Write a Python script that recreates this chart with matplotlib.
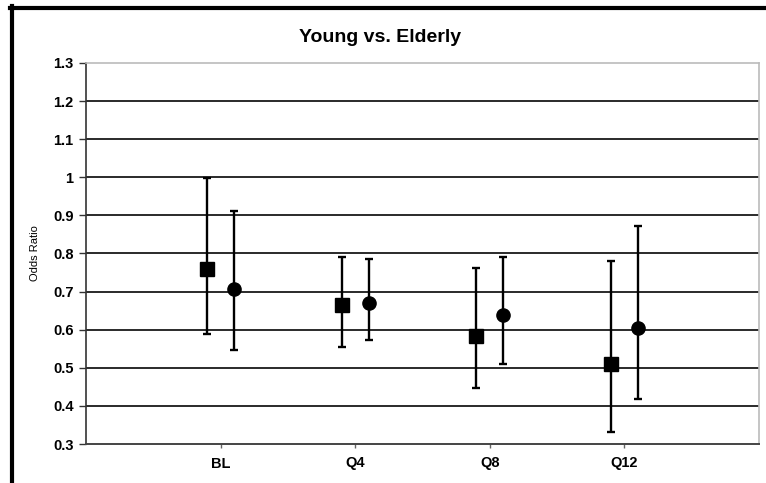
import numpy as np
import matplotlib
matplotlib.use('Agg')
import matplotlib.pyplot as plt
from matplotlib.lines import Line2D

plt.rcParams['font.family'] = ['Liberation Sans', 'DejaVu Sans']

categories = ['BL', 'Q4', 'Q8', 'Q12']

# first series (squares)
sq_mean = [0.76, 0.665, 0.583, 0.51]
sq_low = [0.59, 0.555, 0.446, 0.332]
sq_high = [0.997, 0.792, 0.762, 0.781]

# second series (circles)
ci_mean = [0.708, 0.671, 0.638, 0.605]
ci_low = [0.547, 0.572, 0.509, 0.418]
ci_high = [0.912, 0.785, 0.792, 0.872]

y_ticks = [0.3, 0.4, 0.5, 0.6, 0.7, 0.8, 0.9, 1, 1.1, 1.2, 1.3]
y_tick_labels = ['0.3', '0.4', '0.5', '0.6', '0.7', '0.8', '0.9', '1', '1.1', '1.2', '1.3']

fig = plt.figure(figsize=(7.66, 4.83), dpi=100)
ax = fig.add_axes([86 / 766, 1 - 444 / 483, (759 - 86) / 766, (444 - 63) / 483])

x = np.arange(1, len(categories) + 1)
offset = 0.1

def draw_series(xpos, mean, low, high, marker):
    mean = np.array(mean)
    yerr = [mean - np.array(low), np.array(high) - mean]
    ax.errorbar(xpos, mean, yerr=yerr, fmt=marker, color='black', ecolor='black',
                markersize=9.5, elinewidth=1.7, capsize=3, capthick=1.7, zorder=3)

draw_series(x - offset, sq_mean, sq_low, sq_high, 's')
draw_series(x + offset, ci_mean, ci_low, ci_high, 'o')

ax.set_xlim(0, 5)
ax.set_ylim(0.3, 1.3)
ax.set_yticks(y_ticks)
ax.set_yticklabels(y_tick_labels, fontsize=10.5, fontweight='bold')
ax.set_xticks(x)
ax.set_xticklabels(categories, fontsize=10.5, fontweight='bold')

for v in y_ticks[1:-1]:
    ax.axhline(v, color='#2a2a2a', linewidth=1.4, zorder=1)

ax.spines['left'].set_color('#333333')
ax.spines['left'].set_linewidth(1.2)
ax.spines['bottom'].set_color('#444444')
ax.spines['bottom'].set_linewidth(1.4)
ax.spines['top'].set_color('#bbbbbb')
ax.spines['top'].set_linewidth(1.2)
ax.spines['right'].set_color('#bbbbbb')
ax.spines['right'].set_linewidth(1.2)
ax.tick_params(axis='y', length=5, width=1, color='#333333', pad=4)
ax.tick_params(axis='x', length=3, width=1, color='#666666', pad=6)

ax.set_ylabel('Odds Ratio', fontsize=8, labelpad=9)
fig.text(380 / 766, 1 - 38 / 483, 'Young vs. Elderly', fontsize=14, fontweight='bold',
         ha='center', va='center')

# outer frame (left and top edges only)
fig.add_artist(Line2D([11.5 / 766, 11.5 / 766], [0, 1 - 6 / 483], transform=fig.transFigure,
                      color='black', linewidth=3))
fig.add_artist(Line2D([10 / 766, 1], [1 - 7.5 / 483, 1 - 7.5 / 483], transform=fig.transFigure,
                      color='black', linewidth=3))

fig.savefig('out.png', dpi=100)
